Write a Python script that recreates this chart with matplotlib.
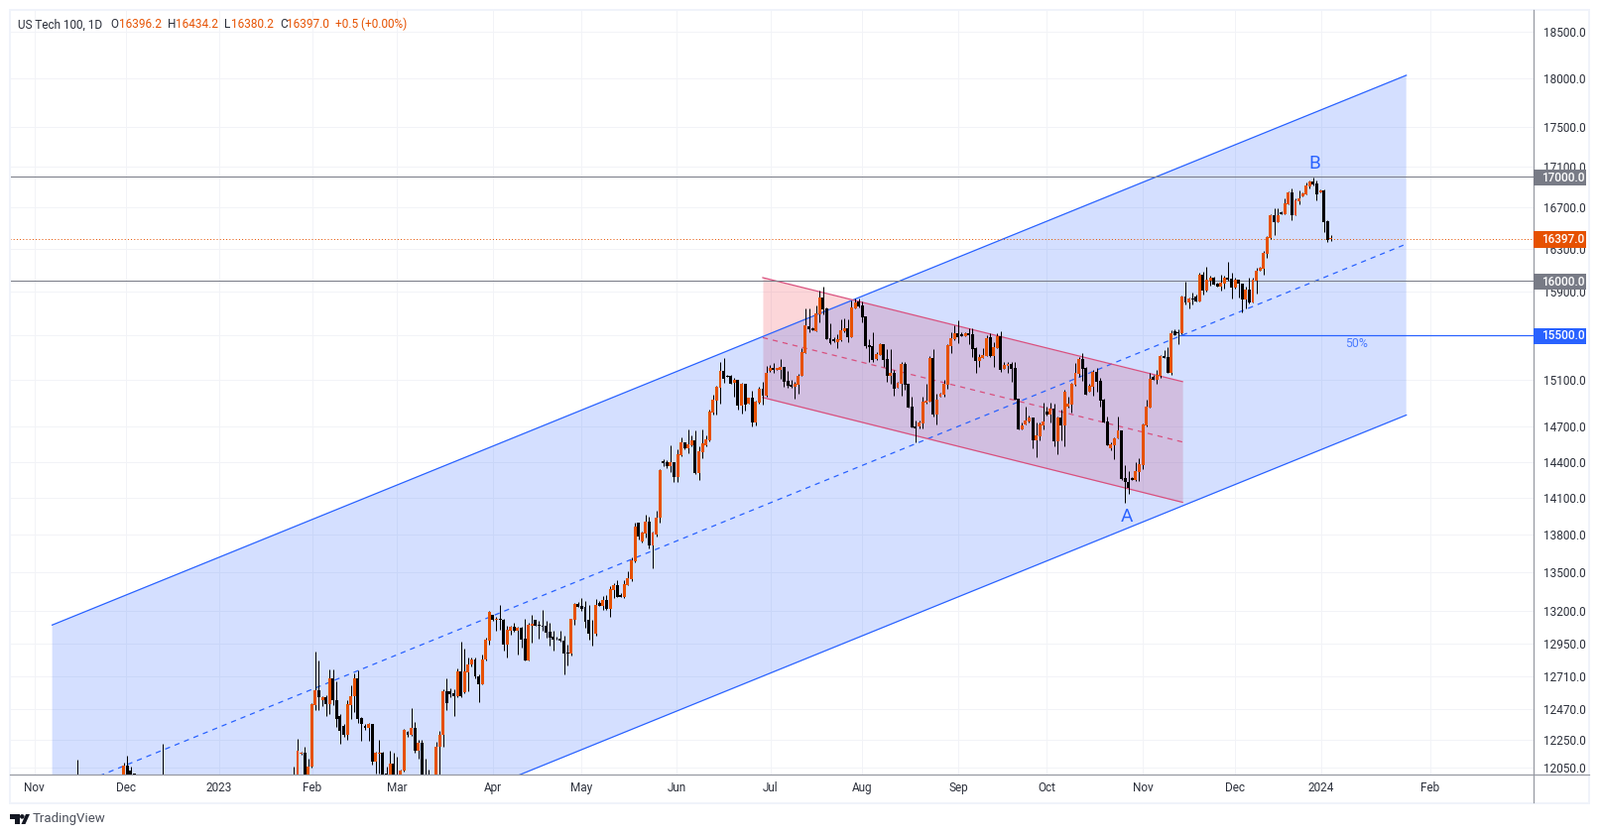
import matplotlib
matplotlib.use("Agg")
import matplotlib.pyplot as plt
from matplotlib.patches import Rectangle, Polygon, Ellipse
from matplotlib.lines import Line2D
from matplotlib.ticker import NullLocator

plt.rcParams["font.family"] = "Roboto"

# ---- price data (bars 74..366 are contiguous, a few earlier ones peek above the axis) ----
early_bars = [13, 26, 27, 28, 29, 37]
early_opens = [11900, 11900, 12068, 12033, 12010, 11900]
early_closes = [11950, 12068, 11990, 11950, 11980, 11950]
early_highs = [12103, 12082, 12136, 12059, 12012, 12221]
early_lows = [11850, 11880, 11950, 11930, 11900, 11850]

first_bar = 74
opens = [
    11900,11900,12145,12157,11990,12059,12495,12605,12535,12557,
    12505,12695,12530,12420,12345,12280,12500,12560,12695,12405,
    12345,12330,12360,12090,12150,12155,12010,11995,12080,11990,
    11985,12030,12305,12280,12330,12170,12225,11970,11950,11960,
    11990,12195,12285,12600,12600,12585,12565,12745,12590,12740,
    12795,12830,12710,12650,12830,12977,13168,13130,13145,13137,
    12947,13053,13079,13053,13076,12992,12825,13091,13130,13099,
    13091,13091,13046,13008,12992,12992,12977,12886,12878,13137,
    13259,13244,13229,13130,13038,13030,13267,13239,13290,13221,
    13366,13404,13328,13312,13404,13450,13587,13895,13746,13814,
    13908,13714,13800,13935,14405,14393,14360,14399,14276,14456,
    14560,14514,14540,14582,14308,14481,14538,14582,14821,14924,
    15035,15185,15135,15135,15076,15100,14875,15065,14895,14946,
    14731,14904,15026,14966,15185,15210,15195,15190,15220,15097,
    15060,15044,15062,15135,15344,15585,15567,15539,15694,15848,
    15748,15476,15468,15441,15459,15539,15567,15485,15748,15812,
    15776,15676,15414,15406,15291,15326,15423,15291,15141,15168,
    15035,15070,15247,15070,14872,14702,14702,14727,14906,14915,
    15300,14804,14957,14975,15062,15406,15468,15521,15512,15494,
    15521,15512,15388,15273,15300,15318,15485,15318,15388,15494,
    15203,15229,15247,15212,14940,14676,14719,14744,14778,14583,
    14617,14710,14830,14804,14855,14574,14778,14710,14872,14889,
    15062,15159,15291,15212,15000,15044,15176,15097,14932,14744,
    14514,14542,14594,14662,14266,14233,14266,14250,14316,14373,
    14710,14864,15132,15106,15141,15318,15309,15168,15538,15530,
    15520,15855,15803,15839,15855,15812,16060,15912,16003,16031,
    15976,15948,15976,16031,16022,15939,16012,15976,15830,15921,
    15803,16003,16097,16115,16256,16406,16626,16558,16655,16636,
    16732,16848,16626,16761,16810,16829,16906,16955,16935,16848,
    16868,16568,16396.2,
]
closes = [
    11950,12171,12155,11950,12059,12505,12605,12556,12557,12505,
    12695,12530,12400,12310,12280,12505,12565,12695,12400,12360,
    12335,12360,12090,12155,12157,12005,11970,12080,11990,11980,
    12030,12320,12280,12330,12170,12225,12000,11950,11960,11975,
    12200,12285,12600,12515,12580,12565,12745,12565,12745,12800,
    12830,12705,12650,12830,12985,13198,13130,13145,13130,12947,
    13060,13084,13053,13076,12985,12825,13099,13107,13091,13086,
    13084,13038,13000,12985,12987,12972,12878,12881,13145,13259,
    13236,13221,13122,13030,13033,13251,13244,13290,13221,13373,
    13404,13312,13312,13411,13457,13594,13869,13787,13820,13908,
    13714,13820,13935,14333,14385,14360,14399,14276,14464,14565,
    14514,14548,14582,14308,14489,14557,14591,14830,14932,15044,
    15185,15115,15130,15073,15100,14875,15065,14884,14946,14731,
    14912,15026,14966,15168,15212,15190,15205,15220,15088,15053,
    15044,15070,15141,15353,15594,15557,15545,15703,15848,15739,
    15468,15432,15444,15468,15548,15567,15485,15758,15803,15767,
    15667,15406,15397,15282,15335,15423,15282,15141,15168,15026,
    15079,15247,15062,14864,14693,14685,14736,14915,14923,15300,
    14804,14932,14983,15070,15415,15476,15521,15485,15494,15521,
    15506,15379,15273,15309,15326,15476,15318,15397,15494,15194,
    15238,15247,15203,14932,14676,14710,14753,14778,14583,14625,
    14719,14744,14801,14855,14574,14778,14710,15000,14898,15070,
    15168,15291,15203,14974,15053,15176,15088,14923,14736,14540,
    14548,14602,14662,14258,14233,14184,14250,14324,14382,14719,
    14872,15115,15106,15150,15318,15300,15168,15521,15503,15520,
    15855,15803,15839,15824,15812,16060,15912,16012,16031,15967,
    15948,15985,16031,16012,15939,16012,15976,15830,15921,15803,
    16012,16097,16125,16266,16416,16626,16558,16626,16636,16742,
    16848,16626,16771,16790,16839,16916,16955,16926,16829,16868,
    16558,16387,16397,
]
highs = [
    12059,12256,12160,12200,12110,12510,12890,12825,12560,12570,
    12760,12760,12670,12430,12360,12530,12640,12730,12750,12410,
    12360,12370,12362,12160,12245,12160,12060,12170,12155,12130,
    12035,12325,12310,12475,12375,12250,12250,12115,12040,11990,
    12235,12310,12615,12690,12620,12610,12770,12965,12915,12845,
    12850,12845,12720,12870,12995,13205,13175,13155,13245,13145,
    13086,13091,13110,13079,13079,13145,13110,13168,13130,13125,
    13213,13125,13112,13053,13003,13053,13010,12942,13145,13267,
    13269,13302,13277,13251,13130,13297,13282,13320,13328,13396,
    13419,13442,13338,13442,13510,13617,13899,13895,13825,13960,
    13943,13825,13995,14340,14420,14415,14540,14399,14503,14610,
    14568,14670,14625,14662,14531,14673,14625,14844,14972,15050,
    15264,15300,15150,15150,15120,15105,15080,15072,14950,15010,
    14926,15044,15088,15230,15235,15255,15210,15285,15220,15185,
    15105,15088,15155,15390,15748,15742,15576,15773,15909,15948,
    15758,15612,15485,15515,15645,15651,15642,15818,15833,15833,
    15812,15676,15470,15530,15353,15432,15423,15379,15373,15191,
    15088,15259,15265,15070,14957,14753,14753,14957,15073,15315,
    15379,14986,14992,15103,15423,15530,15591,15636,15530,15530,
    15567,15567,15397,15332,15382,15500,15521,15441,15521,15539,
    15265,15265,15265,15265,14940,14730,14872,14793,14778,14730,
    14730,14906,14872,14906,14900,14785,14844,15015,14957,15079,
    15256,15303,15344,15220,15073,15191,15206,15118,14943,14787,
    14568,14608,14784,14662,14371,14324,14275,14398,14434,14724,
    14929,15162,15147,15191,15323,15368,15397,15544,15555,15555,
    15867,15994,15848,15894,15873,16078,16088,16134,16047,16037,
    15985,16060,16044,16181,16078,16031,16012,15976,15948,16031,
    16031,16125,16134,16281,16425,16636,16694,16694,16661,16790,
    16855,16887,16790,16868,16848,16945,16965,16994,16965,16874,
    16874,16578,16434.2,
]
lows = [
    11850,11880,12140,11930,11970,12050,12460,12460,12490,12420,
    12430,12500,12340,12220,12270,12250,12400,12450,12370,12240,
    12315,12240,12075,12010,12010,11960,11950,11950,11950,11950,
    11970,12020,12270,12275,12155,12115,11980,11930,11930,11940,
    11960,12000,12200,12460,12555,12415,12555,12555,12585,12600,
    12780,12695,12520,12650,12825,12947,13125,13053,13060,12900,
    12845,13023,13040,12870,12925,12825,12825,12960,13091,12992,
    13048,12997,12939,12900,12982,12970,12725,12787,12863,13099,
    13236,13200,13074,12985,12939,13015,13244,13213,13206,13155,
    13302,13312,13312,13302,13404,13430,13582,13760,13735,13780,
    13695,13534,13790,13895,14366,14344,14317,14235,14229,14447,
    14508,14475,14530,14297,14251,14434,14530,14574,14801,14801,
    14900,15080,15127,15070,14960,14846,14810,14840,14892,14697,
    14711,14900,14889,14960,15175,15168,15190,15115,15044,15030,
    15030,14940,14985,15135,15344,15530,15545,15539,15621,15691,
    15468,15417,15441,15388,15450,15530,15441,15485,15748,15758,
    15621,15388,15265,15265,15280,15323,15220,15088,15073,14963,
    15030,14969,15020,14864,14688,14560,14685,14680,14900,14915,
    14787,14719,14957,14957,15029,15344,15456,15432,15491,15491,
    15423,15309,15162,15220,15300,15315,15303,15220,15388,15176,
    15203,15162,15088,14932,14676,14673,14719,14730,14517,14440,
    14580,14673,14793,14730,14532,14461,14583,14532,14860,14815,
    15050,15132,15097,14974,15000,14963,15000,14872,14730,14540,
    14500,14426,14594,14250,14063,14137,14244,14241,14241,14338,
    14702,14864,15103,15073,15118,15300,15168,15147,15500,15420,
    15510,15779,15748,15779,15812,15812,15876,15903,15955,15964,
    15945,15909,15924,16000,15839,15924,15848,15712,15748,15794,
    15803,15885,16094,16062,16212,16397,16437,16558,16629,16636,
    16732,16577,16626,16726,16806,16822,16887,16913,16771,16848,
    16462,16369,16380.2,
]

# ---- axis labels ----
price_ticks = [18500, 18000, 17500, 17100, 16700, 16300, 15900, 15500, 15100, 14700,
               14400, 14100, 13800, 13500, 13200, 12950, 12710, 12470, 12250, 12050]
hidden_price_labels = [15500]  # fully covered by the level label in the picture
time_ticks = [0.9, 26.8, 52.9, 79.2, 102.9, 130, 154.9, 181.7, 208.2, 234, 261, 286, 313, 338.9, 363.2, 394]
time_labels = ["Nov", "Dec", "2023", "Feb", "Mar", "Apr", "May", "Jun", "Jul", "Aug", "Sep", "Oct", "Nov", "Dec", "2024", "Feb"]

# ---- drawings ----
big_x = [5.9, 387.2]
big_top = [13094, 18035]
big_mid = [11859, 16336]
big_bot = [10745, 14797]
mid_end_x = 386.4
red_x = [206, 324.2]
red_top = [16030, 15088]
red_mid = [15480, 14567]
red_bot = [14949, 14064]
level_16000, level_17000, level_15500, last_close = 16000, 17000, 15500, 16397
level_15500_start = 323

# ---- styles ----
W, H = 1613, 844
UP, BLUE, GREY, RED = "#e65100", "#2962ff", "#787b86", "#d9507e"
TXT, GRID, FRAME, AXIS = "#2a2e39", "#f2f3f7", "#f0f3fa", "#9598a1"
PT = 0.72  # 1 px in points at dpi 100
FS = 11.8 * PT

def fx(x): return x / W
def fy(y): return 1 - y / H

fig = plt.figure(figsize=(W / 100, H / 100), dpi=100, facecolor="white")
L, R, T, B = 10, 1546, 10, 781
ax = fig.add_axes([fx(L), fy(B), (R - L) / W, (B - T) / H])
ax.set_yscale("log")
ax.set_ylim(12002, 18735)
ax.set_xlim((L - 31.5) / 3.58, (R - 31.5) / 3.58)
for s in ax.spines.values():
    s.set_visible(False)
ax.set_axisbelow(True)
ax.yaxis.tick_right()
ax.set_yticks(price_ticks)
ax.set_yticklabels(["" if p in hidden_price_labels else f"{p:.1f}" for p in price_ticks])
ax.yaxis.set_minor_locator(NullLocator())
ax.set_xticks(time_ticks)
ax.set_xticklabels(time_labels)
ax.tick_params(axis="y", length=0, pad=7.2, labelsize=FS, labelcolor=TXT)
ax.tick_params(axis="x", length=0, pad=5.0, labelsize=FS, labelcolor=TXT)
ax.grid(True, color=GRID, lw=1.0 * PT)

# channels (the blue fill lies over the red one)
ax.fill_between(red_x, red_bot, red_top, color="#f23645", alpha=0.2, lw=0, zorder=1.2)
ax.fill_between(big_x, big_bot, big_top, color=BLUE, alpha=0.2, lw=0, zorder=1.3)
ax.plot(big_x, big_top, color=BLUE, lw=1.25 * PT, zorder=1.5)
ax.plot(big_x, big_bot, color=BLUE, lw=1.25 * PT, zorder=1.5)
ax.plot([big_x[0], mid_end_x], big_mid, color=BLUE, lw=1.25 * PT, ls=(0, (4.2, 4)), zorder=1.5)
ax.plot(red_x, red_top, color=RED, lw=1.25 * PT, zorder=1.6)
ax.plot(red_x, red_bot, color=RED, lw=1.25 * PT, zorder=1.6)
ax.plot(red_x, red_mid, color=RED, lw=1.25 * PT, ls=(0, (4.2, 4)), zorder=1.6)

# levels
ax.axhline(level_17000, color=GREY, lw=1.0 * PT, zorder=1.7)
ax.axhline(level_16000, color=GREY, lw=1.0 * PT, zorder=1.7)
ax.axhline(last_close, color=UP, lw=1.0 * PT, ls=(0, (1, 2.2)), zorder=1.7)
ax.plot([level_15500_start, ax.get_xlim()[1]], [level_15500] * 2, color=BLUE, lw=1.25 * PT, zorder=1.7)

# candles
bars = early_bars + list(range(first_bar, first_bar + len(opens)))
O = early_opens + opens
C = early_closes + closes
Hi = early_highs + highs
Lo = early_lows + lows
assert len(bars) == len(O) == len(C) == len(Hi) == len(Lo)
ax.vlines(bars, Lo, Hi, color="black", lw=1.0 * PT, zorder=3)
bar_colors = [UP if c >= o else "black" for o, c in zip(O, C)]
ax.bar(bars, [max(abs(c - o), 4) for o, c in zip(O, C)], bottom=[min(o, c) for o, c in zip(O, C)],
       width=0.82, color=bar_colors, lw=0, zorder=4)

# annotations
ax.text((1104 * 1.0287 - 31.5) / 3.58, 13945, "A", color=BLUE, fontsize=19 * PT, ha="center", va="center", zorder=6)
ax.text((1288 * 1.0287 - 31.5) / 3.58, 17130, "B", color=BLUE, fontsize=19 * PT, ha="center", va="center", zorder=6)
ax.text((1329 * 1.0287 - 31.5) / 3.58, 15430, "50%", color=BLUE, fontsize=12.2 * PT, ha="center", va="center", zorder=6, alpha=0.8)

# frame & axis lines
fig.add_artist(Rectangle((fx(9.5), fy(809.5)), (1602 - 9.5) / W, (809.5 - 9.5) / H, transform=fig.transFigure,
                         fill=False, ec=FRAME, lw=2 * PT))
fig.add_artist(Line2D([fx(10), fx(1602)], [fy(781.2)] * 2, color=AXIS, lw=1.2 * PT))
fig.add_artist(Line2D([fx(1545.6)] * 2, [fy(10), fy(809)], color=AXIS, lw=1.2 * PT))

# price-axis labels
for price, col in [(level_17000, GREY), (level_16000, GREY), (last_close, UP), (level_15500, BLUE)]:
    y_axes = ax.transData.transform((0, price))[1] / H - 0.8 / H
    h = 16.8 / H
    fig.add_artist(Rectangle((fx(1546), y_axes - h / 2), 53 / W, h, transform=fig.transFigure, fc=col, ec="none", zorder=5))
    fig.text(fx(1575.5), y_axes, f"{price:.1f}", color="white", fontsize=FS, fontweight="medium", ha="center", va="center", zorder=6)

# header
parts = [(18, "US Tech 100, 1D", TXT), (111, "O", TXT), (120, "16396.2", UP), (169, "H", TXT), (177.5, "16434.2", UP),
         (226, "L", TXT), (233, "16380.2", UP), (282, "C", TXT), (289.5, "16397.0", UP), (338, "+0.5 (+0.00%)", UP)]
for x, s, col in parts:
    fig.text(fx(x), fy(24.8), s, color=col, fontsize=FS, ha="left", va="center", zorder=6)

# logo
logo = "#131722"
fig.add_artist(Polygon([(fx(x), fy(y)) for x, y in [(10, 821), (19.5, 821), (19.5, 831), (15, 831), (15, 826), (10, 826)]],
                       closed=True, transform=fig.transFigure, fc=logo, ec="none"))
fig.add_artist(Polygon([(fx(x), fy(y)) for x, y in [(21.5, 831), (26, 821), (30, 821), (25.5, 831)]],
                       closed=True, transform=fig.transFigure, fc=logo, ec="none"))
dot_r = 2.3
fig.add_artist(Ellipse((fx(22.3), fy(823.4)), 2 * dot_r / W, 2 * dot_r / H, transform=fig.transFigure, fc=logo, ec="none"))
fig.text(fx(33), fy(826), "TradingView", color="#4a4e59", fontsize=13.2 * PT, ha="left", va="center")

fig.savefig("out.png", dpi=100, facecolor="white")
